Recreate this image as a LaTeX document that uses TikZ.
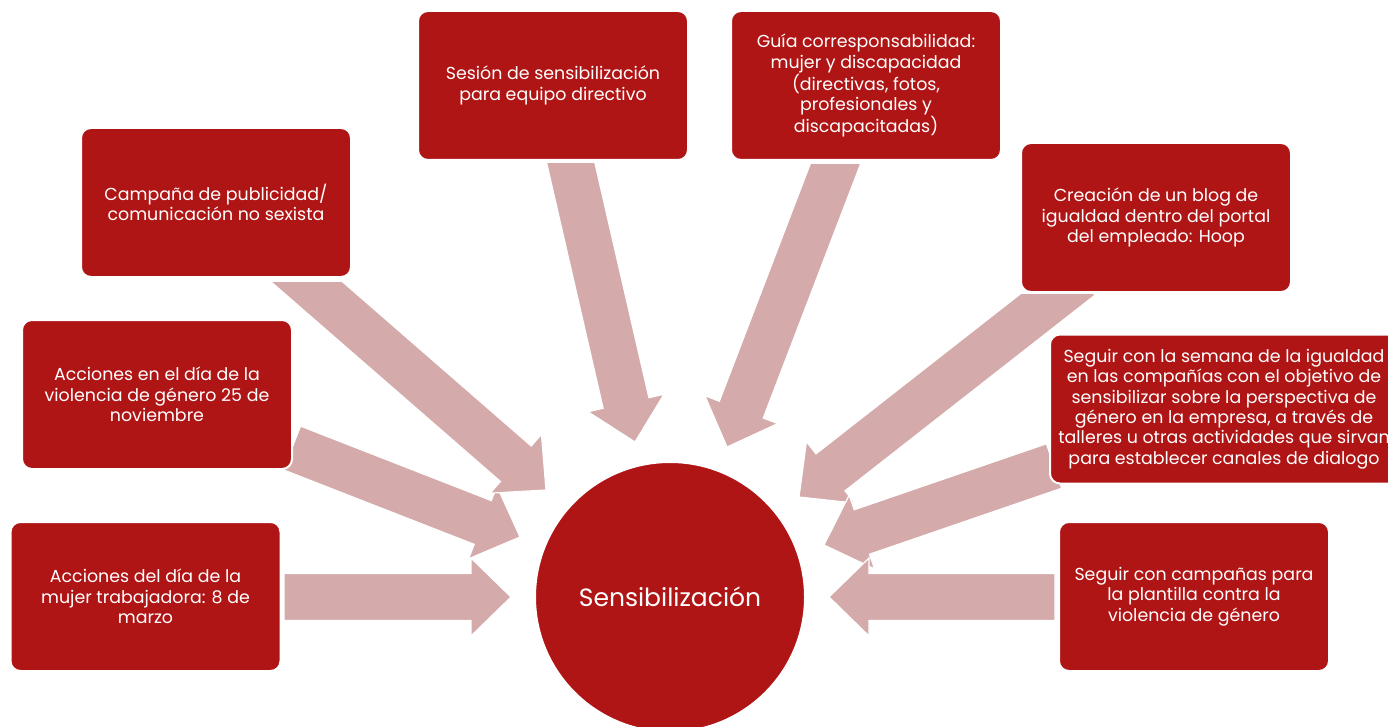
\documentclass[tikz,border=0pt]{standalone}
\usepackage{fontspec}
\setmainfont{Poppins}
\usetikzlibrary{calc}
\definecolor{boxred}{RGB}{176,21,22}
\definecolor{arrowpink}{RGB}{212,170,170}
\tikzset{
  redbox/.style={draw=white, line width=2pt, fill=boxred, rounded corners=10pt,
    minimum width=270pt, minimum height=149pt, inner sep=0pt, text=white,
    align=center, font=\fontsize{17.4}{20.3}\selectfont},
  arrowshape/.style={fill=arrowpink, draw=white, line width=1.2pt, line join=miter},
}
\newcommand{\blkarrow}[2]{%
  \coordinate (hb) at ($(#2)!40pt!(#1)$);
  \path[arrowshape]
    ($(#1)!23.5pt!90:(#2)$) -- ($(hb)!23.5pt!90:(#2)$) -- ($(hb)!39pt!90:(#2)$) --
    (#2) -- ($(hb)!39pt!-90:(#2)$) -- ($(hb)!23.5pt!-90:(#2)$) --
    ($(#1)!23.5pt!-90:(#2)$) -- cycle;
}
% arrow whose tail is cut horizontally at height #3
\newcommand{\blkarrowcut}[3]{%
  \begin{scope}
    \clip (0,#3) rectangle (1388,727);
    \coordinate (tx) at ($(#1)!-30pt!(#2)$);
    \blkarrow{tx}{#2}
  \end{scope}
}
\begin{document}
\begin{tikzpicture}[x=1pt,y=-1pt]
\useasboundingbox[fill=white] (0,0) rectangle (1388,727);
% arrow end points
\coordinate (tA) at (284,597);  \coordinate (pA) at (511,597);
\coordinate (tB) at (292,448);  \coordinate (pB) at (520,537);
\coordinate (tC) at (307,282);  \coordinate (pC) at (546,490);
\coordinate (tD) at (571,164);  \coordinate (pD) at (635,442);
\coordinate (tE) at (835,165);  \coordinate (pE) at (727,447);
\coordinate (tF) at (1057,295); \coordinate (pF) at (799,497);
\coordinate (tG) at (1054,466); \coordinate (pG) at (824,545);
\coordinate (tH) at (1055,597); \coordinate (pH) at (829,597);
\blkarrow{tA}{pA}
\blkarrow{tB}{pB}
\blkarrowcut{tC}{pC}{282}
\blkarrowcut{tD}{pD}{164}
\blkarrowcut{tE}{pE}{165}
\blkarrowcut{tF}{pF}{294}
\blkarrow{tG}{pG}
\blkarrow{tH}{pH}
% boxes
\node[redbox] (b1) at (553,85.5) {Sesión de sensibilización\\para equipo directivo};
\node[redbox] (b2) at (866,85.5) {Guía corresponsabilidad:\\mujer y discapacidad\\(directivas, fotos,\\profesionales y\\discapacitadas)};
\node[redbox] (b3) at (216,202.5) {Campaña de publicidad/\\comunicación no sexista};
\node[redbox] (b4) at (1156,217.5) {Creación de un blog de\\igualdad dentro del portal\\del empleado: Hoop};
\node[redbox] (b5) at (157,394.5) {Acciones en el día de la\\violencia de género 25 de\\noviembre};
\node[redbox, minimum width=348pt] (b6) at (1224,409) {Seguir con la semana de la igualdad\\en las compañías con el objetivo de\\sensibilizar sobre la perspectiva de\\género en la empresa, a través de\\talleres u otras actividades que sirvan\\para establecer canales de dialogo};
\node[redbox] (b7) at (145.5,596.5) {Acciones del día de la\\mujer trabajadora: 8 de\\marzo};
\node[redbox] (b8) at (1194,596.5) {Seguir con campañas para\\la plantilla contra la\\violencia de género};
% center
\node[circle, draw=white, line width=2pt, fill=boxred, minimum size=270pt, inner sep=0pt,
  text=white, font=\fontsize{25}{30}\selectfont] (c) at (670,597) {Sensibilización};
\end{tikzpicture}
\end{document}
